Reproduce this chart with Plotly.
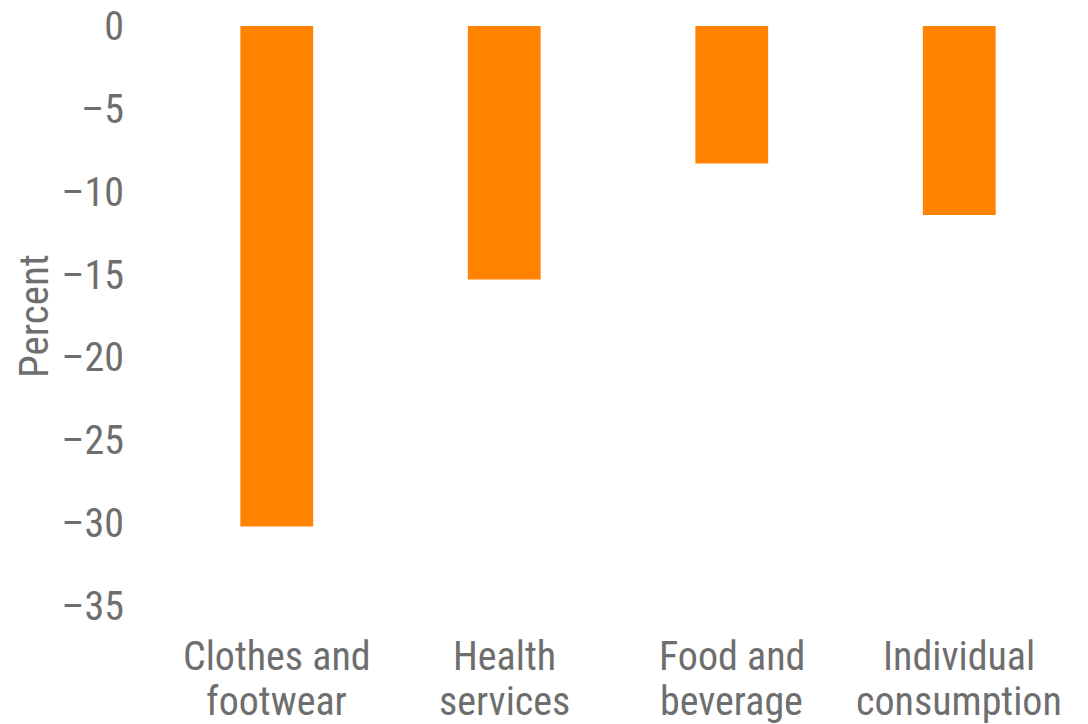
import plotly.graph_objects as go

# Change in spending by category, percent
line1 = ["Clothes and", "Health", "Food and", "Individual"]
line2 = ["footwear", "services", "beverage", "consumption"]
categories = [a + " " + b for a, b in zip(line1, line2)]
values = [-30.2, -15.3, -8.3, -11.4]

tick_vals = [0, -5, -10, -15, -20, -25, -30, -35]
tick_text = ["0", "\u20135", "\u201310", "\u201315", "\u201320", "\u201325", "\u201330", "\u201335"]

FONT = "Liberation Sans Narrow, Arial Narrow, Roboto Condensed, Arial, sans-serif"
GREY = "#6e6e6e"
ORANGE = "#FF8200"

fig = go.Figure(
    go.Bar(
        x=categories,
        y=values,
        marker=dict(color=ORANGE, line=dict(width=0)),
        width=0.32,
    )
)

# two-line category labels under the axis
annotations = []
for cat, a, b in zip(categories, line1, line2):
    annotations.append(dict(x=cat, y=0, xref="x", yref="paper", text=a,
                            showarrow=False, yanchor="middle", yshift=-50,
                            font=dict(family=FONT, size=40, color=GREY)))
    annotations.append(dict(x=cat, y=0, xref="x", yref="paper", text=b,
                            showarrow=False, yanchor="middle", yshift=-95,
                            font=dict(family=FONT, size=40, color=GREY)))

fig.update_layout(
    width=1088,
    height=724,
    margin=dict(l=163, r=15, t=26, b=118, autoexpand=False),
    paper_bgcolor="white",
    plot_bgcolor="white",
    showlegend=False,
    font=dict(family=FONT, size=40, color=GREY),
    annotations=annotations,
    xaxis=dict(showticklabels=False, showgrid=False, zeroline=False,
               showline=False, ticks="", automargin=False),
    yaxis=dict(
        range=[-35, 0],
        tickvals=tick_vals,
        ticktext=tick_text,
        showgrid=False,
        zeroline=False,
        showline=False,
        ticks="",
        automargin=False,
        ticklabelstandoff=38,
        tickfont=dict(family=FONT, size=40, color=GREY),
        title=dict(text="Percent", standoff=0,
                   font=dict(family=FONT, size=41, color=GREY)),
    ),
)

fig.write_html("out.html")
